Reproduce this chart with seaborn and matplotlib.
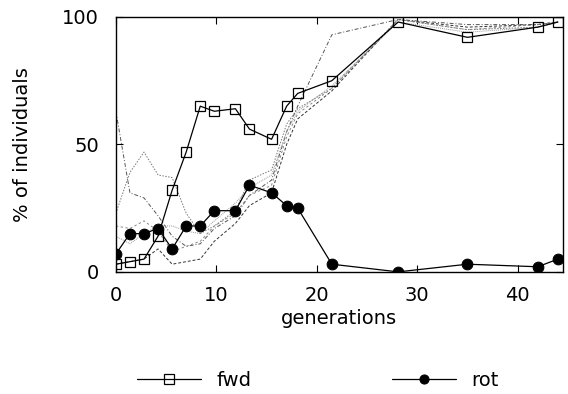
import matplotlib
matplotlib.use("Agg")
import matplotlib.pyplot as plt
import seaborn as sns

# generations at which the populations were sampled
generations = [0, 1.4, 2.8, 4.2, 5.6, 7.0, 8.4, 9.8, 11.9, 13.3, 15.5, 17.0, 18.1, 21.5, 28.1, 35.0, 42.0, 44.0]

# % of individuals
fwd = [3, 4, 5, 14, 32, 47, 65, 63, 64, 56, 52, 65, 70, 75, 98, 92, 96, 98]
rot = [7, 15, 15, 17, 9, 18, 18, 24, 24, 34, 31, 26, 25, 3, 0, 3, 2, 5]

# other runs drawn as thin gray background lines
other1 = [63, 31, 29, 22, 14, 10, 11, 17, 22, 30, 36, 55, 65, 93, 99, 97, 97, 98]
other2 = [23, 39, 47, 38, 37, 23, 15, 18, 24, 36, 40, 58, 64, 72, 99, 95, 96, 98]
other3 = [14, 11, 15, 18, 18, 16, 15, 20, 27, 33, 38, 55, 63, 73, 98, 94, 96, 98]
other4 = [3, 4, 5, 9, 3, 4, 5, 12, 19, 26, 31, 50, 60, 71, 99, 96, 97, 98]
other5 = [18, 17, 20, 16, 8, 10, 12, 18, 23, 30, 34, 53, 62, 72, 99, 95, 97, 98]

sns.set_style("ticks")
plt.rcParams['font.family'] = ['DejaVu Sans']
plt.rcParams['text.color'] = 'black'
plt.rcParams['axes.labelcolor'] = 'black'
plt.rcParams['xtick.color'] = 'black'
plt.rcParams['ytick.color'] = 'black'

fig = plt.figure(figsize=(5.68, 3.94), dpi=100)
ax = fig.add_axes([0.204, 0.310, 0.787, 0.647])

others = [(other1, (0, (4, 2, 1, 2)), '#555555'),
          (other2, (0, (1.5, 1.5)), '#777777'),
          (other3, (0, (1, 1)), '#999999'),
          (other4, (0, (3, 2)), '#333333'),
          (other5, (0, (2.5, 2.5)), '#888888')]
for vals, ls, col in others:
    sns.lineplot(x=generations, y=vals, ax=ax, color=col, linewidth=0.7,
                 linestyle=ls, legend=False)

sns.lineplot(x=generations, y=fwd, ax=ax, color='black', linewidth=0.9,
             marker='s', markersize=7.7, markerfacecolor='none',
             markeredgecolor='black', markeredgewidth=0.9, label='fwd')
sns.lineplot(x=generations, y=rot, ax=ax, color='black', linewidth=0.9,
             marker='o', markersize=7.7, markerfacecolor='black',
             markeredgecolor='black', label='rot')

ax.set_xlim(0, 44.5)
ax.set_ylim(0, 100)
ax.set_xticks([0, 10, 20, 30, 40])
ax.set_yticks([0, 50, 100])
ax.tick_params(direction='in', top=True, right=True, labelsize=14, length=5,
               width=0.8, pad=10)
ax.tick_params(axis='y', pad=12)
for s in ax.spines.values():
    s.set_linewidth(1.0)
    s.set_color('black')
ax.set_xlabel('generations', fontsize=14, labelpad=3)
ax.set_ylabel('% of individuals', fontsize=14, labelpad=22)

handles, labels = ax.get_legend_handles_labels()
ax.get_legend().remove()
fig.legend(handles, labels, loc='center', bbox_to_anchor=(0.56, 0.035), ncol=2,
           frameon=False, fontsize=14, handlelength=3.3, handletextpad=0.8,
           columnspacing=7.2, markerscale=0.85)

fig.savefig('out.png', dpi=100)
